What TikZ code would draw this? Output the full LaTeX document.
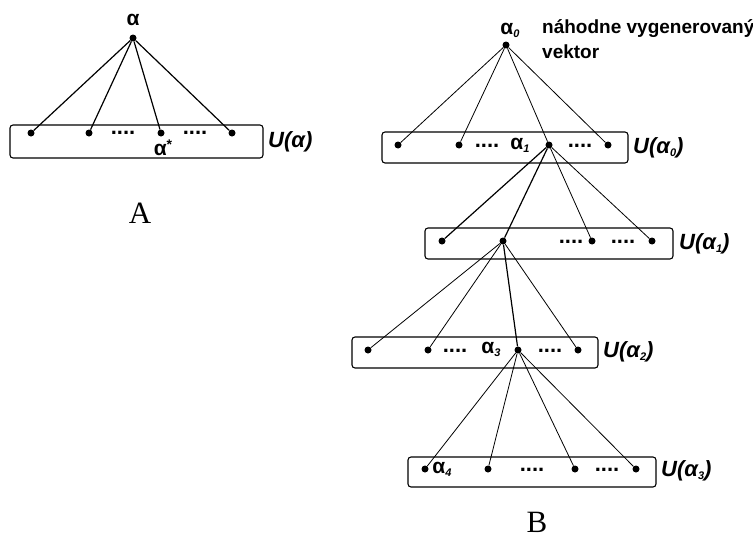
\documentclass[tikz,border=0pt]{standalone}
\usepackage{fontspec}
\setmainfont{Liberation Serif}
\newfontfamily\labfont{Liberation Sans}
\newcommand{\sbs}[1]{\raisebox{-3pt}{\fontsize{11}{11}\selectfont\itshape #1}}
\begin{document}
\begin{tikzpicture}[x=1pt,y=-1pt,
  dot/.style={circle,fill=black,inner sep=0pt,minimum size=7pt},
  panel/.style={draw,rounded corners=3pt,line width=1.1pt,inner sep=0pt},
  edgeA/.style={line width=1.2pt},
  edgeB/.style={line width=0.8pt},
  lab/.style={font=\labfont\bfseries\fontsize{19}{21}\selectfont,inner sep=0pt},
  alab/.style={font=\labfont\bfseries\fontsize{21}{22}\selectfont,inner sep=0pt},
  ell/.style={font=\labfont\bfseries\fontsize{22}{22}\selectfont,inner sep=0pt},
  ulab/.style={font=\labfont\bfseries\itshape\fontsize{22}{24}\selectfont,inner sep=0pt,anchor=west},
  big/.style={font=\fontsize{31}{33}\selectfont,inner sep=0pt}]
\useasboundingbox (0,0) rectangle (753,538);

% ---------- part A ----------
\node[panel,minimum width=253pt,minimum height=33pt] (UA) at (136.5,141.5) {};
\node[dot] (ap) at (133,38) {};
\node[alab] (apl) at (133,20) {α};
\node[dot] (a1) at (31,133) {};
\node[dot] (a2) at (89,133) {};
\node[dot] (a3) at (161,133) {};
\node[dot] (a4) at (232,133) {};
\foreach \t in {a1,a2,a3,a4} \draw[edgeA] (ap) -- (\t);
\node[ell] (ea1) at (123,133) {....};
\node[ell] (ea2) at (195,133) {....};
\node[alab] (astar) at (163,148) {α\raisebox{6pt}{\fontsize{14}{14}\selectfont *}};
\node[ulab] (UAl) at (268,142) {U(α)};
\node[big] (capA) at (140,213) {A};

% ---------- part B ----------
\node[panel,minimum width=246pt,minimum height=31pt] (B1) at (505,147.5) {};
\node[panel,minimum width=248pt,minimum height=31pt] (B2) at (549,243.5) {};
\node[panel,minimum width=246pt,minimum height=31pt] (B3) at (475,352.5) {};
\node[panel,minimum width=248pt,minimum height=30pt] (B4) at (532,472) {};

\node[dot] (r0) at (506,45) {};
\node[alab] (r0l) at (510,30) {α\sbs{0}};
\node[lab,anchor=west] (note1) at (542,29) {náhodne vygenerovaný};
\node[lab,anchor=west] (note2) at (542,52) {vektor};

\node[dot] (p1) at (398,145) {};
\node[dot] (p2) at (459,145) {};
\node[dot] (p3) at (549,145) {};
\node[dot] (p4) at (608,145) {};

\node[dot] (q1) at (442,241) {};
\node[dot] (q2) at (503,241) {};
\node[dot] (q3) at (592,241) {};
\node[dot] (q4) at (652,241) {};

\node[dot] (s1) at (368,350) {};
\node[dot] (s2) at (428,350) {};
\node[dot] (s3) at (518,350) {};
\node[dot] (s4) at (578,350) {};

\node[dot] (t1) at (425,469) {};
\node[dot] (t2) at (488,469) {};
\node[dot] (t3) at (575,469) {};
\node[dot] (t4) at (636,469) {};

\foreach \t in {p1,p2,p3,p4} \draw[edgeB] (r0) -- (\t);
\draw[edgeA] (p3) -- (q1);
\draw[edgeA] (p3) -- (q2);
\foreach \t in {q3,q4} \draw[edgeB] (p3) -- (\t);
\foreach \t in {s1,s2,s4} \draw[edgeB] (q2) -- (\t);
\draw[edgeA] (q2) -- (s3);
\foreach \t in {t1,t2,t3,t4} \draw[edgeB] (s3) -- (\t);

\node[ell] (e11) at (487,146) {....};
\node[ell] (e12) at (580,146) {....};
\node[ell] (e21) at (571,242) {....};
\node[ell] (e22) at (623,242) {....};
\node[ell] (e31) at (455,351) {....};
\node[ell] (e32) at (550,351) {....};
\node[ell] (e41) at (532,470) {....};
\node[ell] (e42) at (607,470) {....};

\node[alab] (l1) at (520,145) {α\sbs{1}};
\node[alab] (l3) at (491,349) {α\sbs{3}};
\node[alab] (l4) at (442,469) {α\sbs{4}};

\node[ulab] (U0) at (633,148) {U(α\sbs{0})};
\node[ulab] (U1) at (679,244) {U(α\sbs{1})};
\node[ulab] (U2) at (603,352) {U(α\sbs{2})};
\node[ulab] (U3) at (661,471) {U(α\sbs{3})};

\node[big] (capB) at (537,522) {B};
\end{tikzpicture}
\end{document}
